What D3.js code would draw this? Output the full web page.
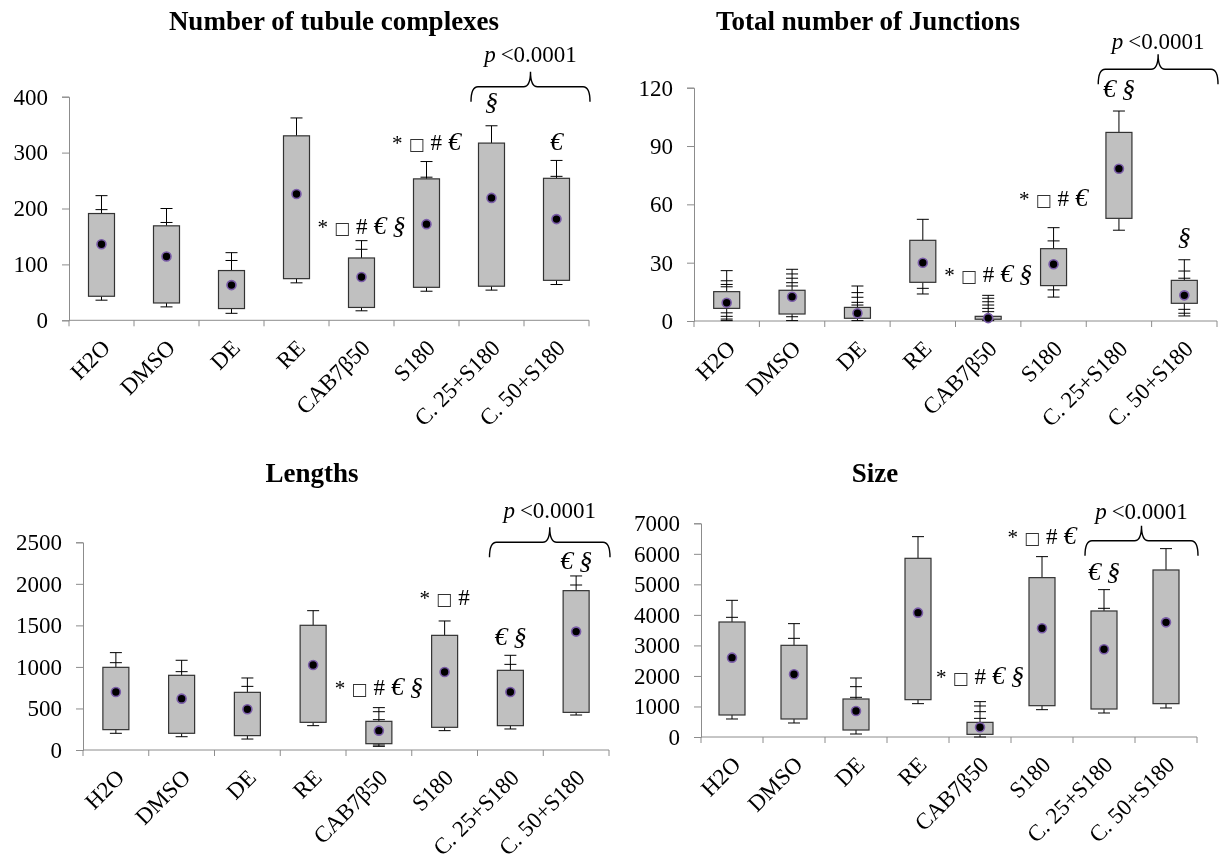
<!DOCTYPE html>
<html>
<head>
<meta charset="utf-8">
<script src="https://cdn.jsdelivr.net/npm/d3@7"></script>
<style>
  html, body { margin: 0; padding: 0; background: #fff; }
  svg { display: block; will-change: transform; -webkit-font-smoothing: antialiased; }
  svg text { font-family: "Liberation Serif", "Times New Roman", serif; }
</style>
</head>
<body>
<svg id="chart" width="1222" height="864"></svg>
<script>
// Treatment groups shared by all four panels
const categories = ["H2O", "DMSO", "DE", "RE", "CAB7β50", "S180", "C. 25+S180", "C. 50+S180"];

// Number of tubule complexes
const tubuleMax  = [223, 200, 121, 362, 142.5, 284, 348, 286];
const tubuleQ3   = [191, 169, 89, 330, 111.5, 253, 317, 254];
const tubuleQ1   = [43, 31, 21, 74.5, 23, 59, 61, 71.5];
const tubuleMin  = [36, 24, 12.5, 67, 17, 52, 54, 64];
const tubuleMean = [136, 114, 63, 226, 77.5, 172, 219, 181];
const tubuleCaps = [[198], [175], [107], [], [127], [256], [], [257.5]];
const tubuleTicks = [0, 100, 200, 300, 400];

// Total number of junctions
const junctionMax  = [25.9, 26.6, 18, 52.3, 13.2, 48, 108, 31.5];
const junctionQ3   = [15.1, 15.8, 7.0, 41.5, 2.4, 37.2, 97, 20.9];
const junctionQ1   = [6.5, 3.6, 1.4, 19.9, 0.9, 18.2, 52.8, 9.1];
const junctionMin  = [0.2, 0.2, 0.2, 13.9, 0.2, 12.3, 46.7, 2.6];
const junctionMean = [9.4, 12.5, 4.0, 30, 1.5, 29.2, 78.3, 13.2];
const junctionCaps = [[20.7, 18.8, 17.6, 4.2, 2.4, 1.0], [24.2, 22, 19.7, 18, 2.2], [14.6, 12.2, 9.6, 8.2],
                      [16.8], [11.7, 9.9, 8.2, 6.5, 4.8], [41.2, 16], [], [25.7, 22, 6, 4]];
const junctionTicks = [0, 30, 60, 90, 120];

// Lengths
const lengthMax  = [1172, 1080, 867, 1677, 510, 1553, 1140, 2095];
const lengthQ3   = [995, 899, 694, 1501, 345, 1380, 959, 1918];
const lengthQ1   = [245, 201, 173, 333, 76, 273, 293, 453];
const lengthMin  = [201, 160, 132, 293, 44, 233, 253, 421];
const lengthMean = [698, 618, 490, 1023, 233, 939, 698, 1425];
const lengthCaps = [[1051], [943], [766], [], [461, 365, 60], [], [1031], [1986]];
const lengthTicks = [0, 500, 1000, 1500, 2000, 2500];

// Size
const sizeMax  = [4477, 3713, 1933, 6563, 1158, 5908, 4827, 6170];
const sizeQ3   = [3767, 3003, 1245, 5853, 480, 5220, 4128, 5471];
const sizeQ1   = [721, 590, 229, 1223, 87, 1026, 917, 1092];
const sizeMin  = [590, 459, 98, 1092, 0, 895, 786, 950];
const sizeMean = [2599, 2053, 852, 4073, 317, 3560, 2872, 3756];
const sizeCaps = [[3920], [3232], [1649, 1300], [], [1016, 830, 611], [], [4215], []];
const sizeTicks = [0, 1000, 2000, 3000, 4000, 5000, 6000, 7000];

// Significance marks: [text pieces, group, value at the text's middle]
const tubuleMarks = [
  [["*", "□", "#", "€"], "S180", 317],
  [["*", "□", "#", "€", "§"], "CAB7β50", 167],
  [["§"], "C. 25+S180", 389],
  [["€"], "C. 50+S180", 317]
];
const junctionMarks = [
  [["€", "§"], "C. 25+S180", 118.8],
  [["*", "□", "#", "€"], "S180", 62.8],
  [["*", "□", "#", "€", "§"], "CAB7β50", 23.7],
  [["§"], "C. 50+S180", 42.7]
];
const lengthMarks = [
  [["€", "§"], "C. 50+S180", 2263],
  [["€", "§"], "C. 25+S180", 1348],
  [["*", "□", "#"], "S180", 1830],
  [["*", "□", "#", "€", "§"], "CAB7β50", 746]
];
const sizeMarks = [
  [["*", "□", "#", "€"], "S180", 6561],
  [["€", "§"], "C. 25+S180", 5372],
  [["*", "□", "#", "€", "§"], "CAB7β50", 1975]
];

const panels = [
  { title: "Number of tubule complexes", titleX: 334, titleY: 30,
    left: 69, right: 589, top: 96.7, bottom: 320.3, domain: [0, 400], ticks: tubuleTicks,
    max: tubuleMax, q3: tubuleQ3, q1: tubuleQ1, min: tubuleMin, mean: tubuleMean, caps: tubuleCaps,
    marks: tubuleMarks, braceY: 86.7, pGap: 25 },
  { title: "Total number of Junctions", titleX: 868, titleY: 30,
    left: 694, right: 1217, top: 87.7, bottom: 321, domain: [0, 120], ticks: junctionTicks,
    max: junctionMax, q3: junctionQ3, q1: junctionQ1, min: junctionMin, mean: junctionMean, caps: junctionCaps,
    marks: junctionMarks, braceY: 69.3, pGap: 20 },
  { title: "Lengths", titleX: 312, titleY: 482,
    left: 83, right: 609, top: 542.3, bottom: 750, domain: [0, 2500], ticks: lengthTicks,
    max: lengthMax, q3: lengthQ3, q1: lengthQ1, min: lengthMin, mean: lengthMean, caps: lengthCaps,
    marks: lengthMarks, braceY: 542.3, pGap: 24 },
  { title: "Size", titleX: 875, titleY: 482,
    left: 701, right: 1197, top: 523.3, bottom: 737, domain: [0, 7000], ticks: sizeTicks,
    max: sizeMax, q3: sizeQ3, q1: sizeQ1, min: sizeMin, mean: sizeMean, caps: sizeCaps,
    marks: sizeMarks, braceY: 540.7, pGap: 22 }
];

const svg = d3.select("#chart");
const axisColor = "#8c8c8c";
const serif = "'Liberation Serif', 'Times New Roman', serif";

// Horizontal curly brace with its point upward
function bracePath(x1, x2, y) {
  const cx = (x1 + x2) / 2, h = 15, r = 7;
  return `M${x1},${y + h} Q${x1},${y} ${x1 + r},${y}` +
         ` L${cx - r},${y} Q${cx},${y} ${cx},${y - h}` +
         ` Q${cx},${y} ${cx + r},${y} L${x2 - r},${y} Q${x2},${y} ${x2},${y + h}`;
}

function markPieces(sel, pieces) {
  pieces.forEach((p, i) => {
    const t = sel.append("tspan").text(p).attr("dx", i === 0 ? 0 : 6).attr("fill", "#000");
    if (p === "*") t.style("font-size", "21px");
    else if (p === "□") t.style("font-size", "17px").style("font-family", "'DejaVu Sans', sans-serif").attr("fill", "#333");
    else if (p === "€" || p === "§") t.style("font-size", "26px").attr("font-style", "italic");
    else t.style("font-size", "23px");
  });
}

panels.forEach(p => {
  const g = svg.append("g");
  const x = d3.scaleBand().domain(categories).range([p.left, p.right]).paddingInner(0).paddingOuter(0);
  const y = d3.scaleLinear().domain(p.domain).range([p.bottom, p.top]);
  const bw = x.bandwidth();
  const boxW = 26, capW = 12;

  // Title
  g.append("text").attr("x", p.titleX).attr("y", p.titleY)
    .attr("text-anchor", "middle").style("font-size", "27px").attr("font-weight", "bold")
    .attr("fill", "#000").text(p.title);

  // Y axis
  const yAxis = g.append("g").attr("transform", `translate(${p.left},0)`)
    .call(d3.axisLeft(y).tickValues(p.ticks).tickSize(7).tickPadding(14).tickFormat(d3.format("d")));
  yAxis.attr("font-family", null).attr("font-size", null);
  yAxis.select(".domain").attr("stroke", axisColor);
  yAxis.selectAll(".tick line").attr("stroke", axisColor);
  yAxis.selectAll(".tick text").style("font-size", "23px").style("font-family", serif).attr("fill", "#000");

  // X axis: line plus separators between groups
  g.append("line").attr("x1", p.left).attr("x2", p.right).attr("y1", p.bottom).attr("y2", p.bottom)
    .attr("stroke", axisColor);
  const seps = categories.map(c => x(c)).concat([p.right]);
  g.selectAll(".sep").data(seps).join("line")
    .attr("x1", d => d).attr("x2", d => d).attr("y1", p.bottom).attr("y2", p.bottom + 6)
    .attr("stroke", axisColor);

  // Group labels, rotated
  g.selectAll(".cat").data(categories).join("text")
    .attr("transform", d => `translate(${x(d) + bw / 2 + 10},${p.bottom + 29}) rotate(-45)`)
    .attr("text-anchor", "end").style("font-size", "23px").attr("fill", "#000").text(d => d);

  categories.forEach((c, i) => {
    const cx = x(c) + bw / 2;
    // whiskers
    g.append("line").attr("x1", cx).attr("x2", cx).attr("y1", y(p.q3[i])).attr("y2", y(p.max[i]))
      .attr("stroke", "#000").attr("stroke-width", 1);
    g.append("line").attr("x1", cx).attr("x2", cx).attr("y1", y(p.q1[i])).attr("y2", y(p.min[i]))
      .attr("stroke", "#000").attr("stroke-width", 1);
    [p.max[i], p.min[i]].concat(p.caps[i]).forEach(v => {
      g.append("line").attr("x1", cx - capW / 2).attr("x2", cx + capW / 2)
        .attr("y1", y(v)).attr("y2", y(v)).attr("stroke", "#000").attr("stroke-width", 1);
    });
    // box
    g.append("rect").attr("x", cx - boxW / 2).attr("y", y(p.q3[i]))
      .attr("width", boxW).attr("height", y(p.q1[i]) - y(p.q3[i]))
      .attr("fill", "#c0c0c0").attr("stroke", "#333").attr("stroke-width", 1.2);
    // mean
    g.append("circle").attr("cx", cx).attr("cy", y(p.mean[i])).attr("r", 4.5)
      .attr("fill", "#000").attr("stroke", "#7a5ca8").attr("stroke-width", 1.6);
  });

  // significance marks
  p.marks.forEach(([pieces, cat, v]) => {
    const t = g.append("text").attr("x", x(cat) + bw / 2).attr("y", y(v) + 7)
      .attr("text-anchor", "middle").attr("fill", "#000");
    markPieces(t, pieces);
  });

  // brace over the two combination groups
  const bx1 = x("C. 25+S180") + 12, bx2 = p.right + 1;
  g.append("path").attr("d", bracePath(bx1, bx2, p.braceY))
    .attr("fill", "none").attr("stroke", "#000").attr("stroke-width", 1.4);
  const pt = g.append("text").attr("x", (bx1 + bx2) / 2).attr("y", p.braceY - p.pGap)
    .attr("text-anchor", "middle").style("font-size", "23px").attr("fill", "#000");
  pt.append("tspan").attr("font-style", "italic").text("p");
  pt.append("tspan").attr("dx", 5).text("<0.0001");
});
</script>
</body>
</html>
